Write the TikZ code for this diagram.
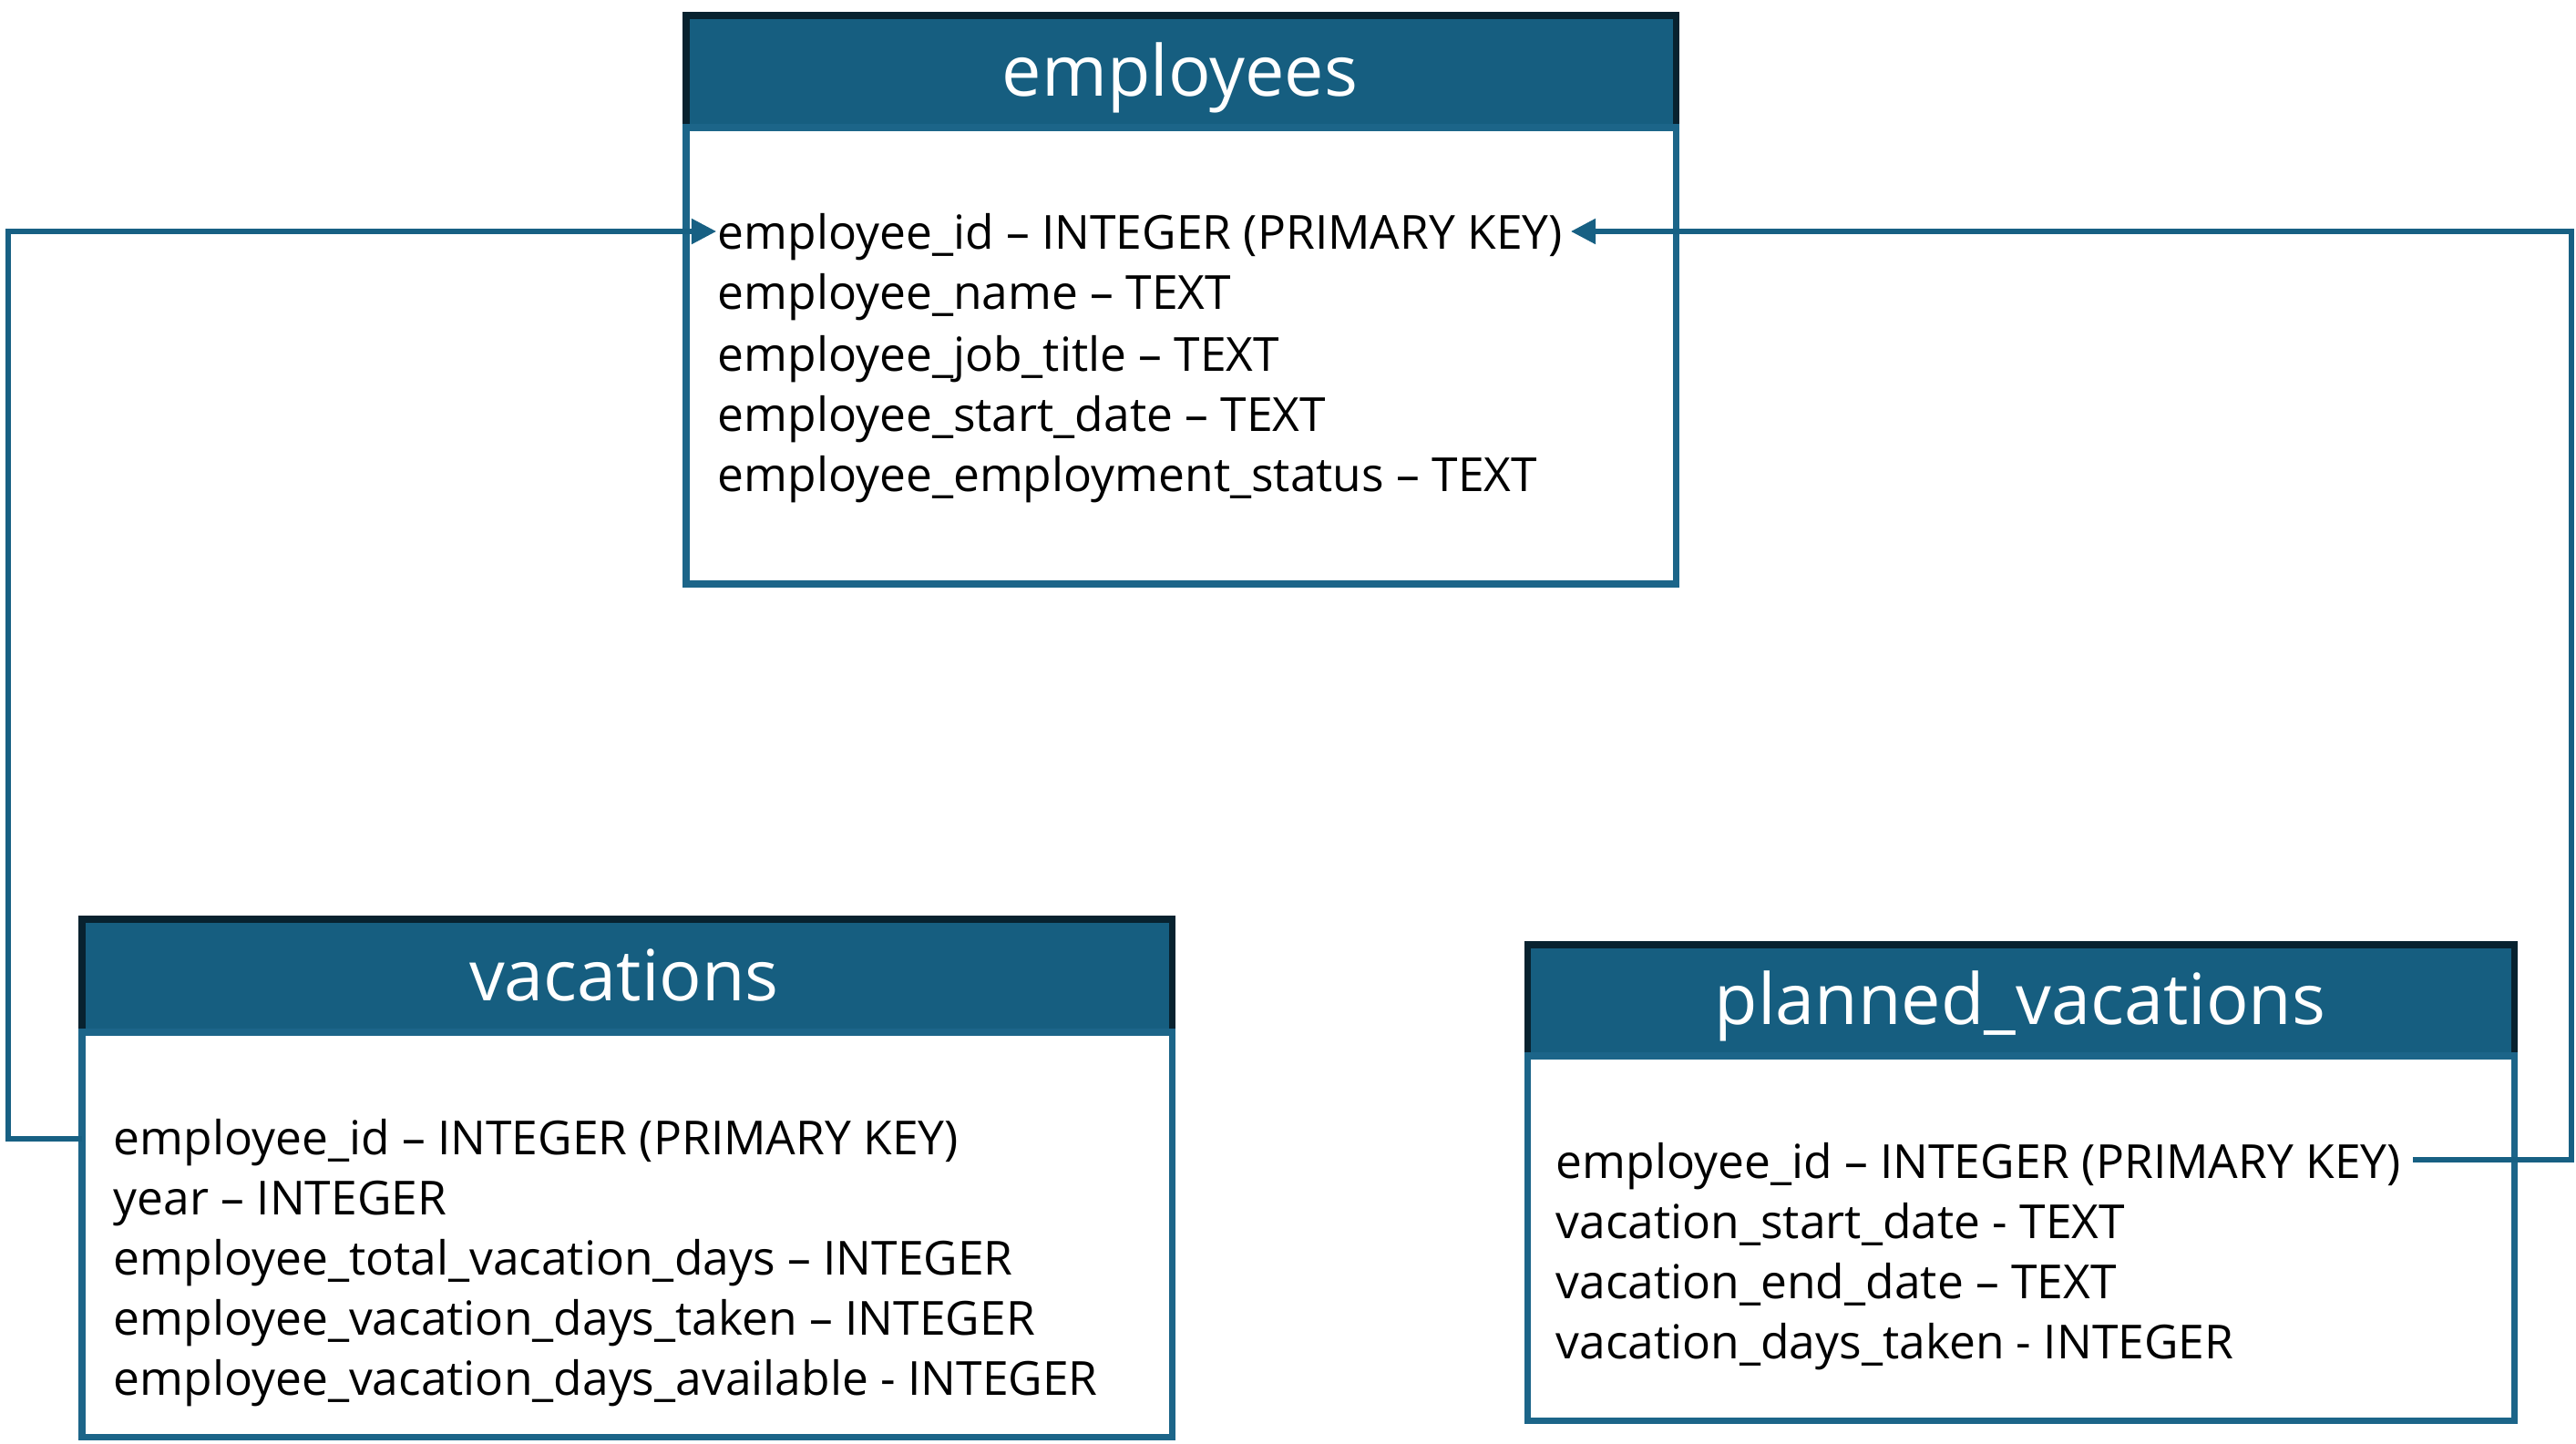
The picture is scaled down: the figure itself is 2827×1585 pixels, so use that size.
\documentclass[tikz,border=0pt]{standalone}
\usepackage{fontspec}
\setmainfont{Open Sans}
\usetikzlibrary{arrows.meta}
\definecolor{hdrfill}{HTML}{165E80}
\definecolor{hdrdark}{HTML}{08222F}
\definecolor{boxblue}{HTML}{1C6589}
\definecolor{linkblue}{HTML}{176083}
\newlength\rowrefw
\newlength\titrefw
\settowidth{\rowrefw}{\fontsize{10pt}{12pt}\selectfont employee\_id – INTEGER (PRIMARY KEY)}
\settowidth{\titrefw}{\fontsize{10pt}{12pt}\selectfont planned\_vacations}
\pgfmathsetmacro\rowfs{10*263.7/\rowrefw}
\pgfmathsetmacro\titfs{10*190.6/\titrefw}
\tikzset{
  hdrbox/.style={fill=hdrfill, draw=hdrdark, line width=2pt},
  bodybox/.style={fill=white, draw=boxblue, line width=2pt},
  rowtext/.style={anchor=base west, inner sep=0pt, font=\fontsize{\rowfs pt}{\rowfs pt}\selectfont, text=black},
  titletext/.style={anchor=base, inner sep=0pt, font=\fontsize{\titfs pt}{\titfs pt}\selectfont, text=white},
  link/.style={draw=linkblue, line width=1.45pt},
  linkarrow/.style={-{Triangle[length=7.7pt,width=7.7pt]}}
}
\begin{document}
\begin{tikzpicture}[x=0.01cm,y=-0.01cm]
\useasboundingbox (0,0) rectangle (2827,1585);
% employees
\draw[hdrbox] (753,17) rectangle (1839,140);
\draw[bodybox] (753,140) rectangle (1839,641);
\node[titletext] (empT) at (1295,106) {employees};
\node[rowtext] (e1) at (787,274) {employee\_id – INTEGER (PRIMARY KEY)};
\node[rowtext] (e2) at (787,340) {employee\_name – TEXT};
\node[rowtext] (e3) at (787,407) {employee\_job\_title – TEXT};
\node[rowtext] (e4) at (787,473) {employee\_start\_date – TEXT};
\node[rowtext] (e5) at (787,539) {employee\_employment\_status – TEXT};
% vacations
\draw[hdrbox] (90,1009) rectangle (1286,1133);
\draw[bodybox] (90,1133) rectangle (1286,1577);
\node[titletext] (vacT) at (685,1098) {vacations};
\node[rowtext] (v1) at (124,1267) {employee\_id – INTEGER (PRIMARY KEY)};
\node[rowtext] (v2) at (124,1333) {year – INTEGER};
\node[rowtext] (v3) at (124,1399) {employee\_total\_vacation\_days – INTEGER};
\node[rowtext] (v4) at (124,1465) {employee\_vacation\_days\_taken – INTEGER};
\node[rowtext] (v5) at (124,1531) {employee\_vacation\_days\_available - INTEGER};
% planned_vacations
\draw[hdrbox] (1676,1037) rectangle (2759,1159);
\draw[bodybox] (1676,1159) rectangle (2759,1559);
\node[titletext] (plT) at (2217,1124) {planned\_vacations};
\node[rowtext] (p1) at (1707,1293) {employee\_id – INTEGER (PRIMARY KEY)};
\node[rowtext] (p2) at (1707,1359) {vacation\_start\_date - TEXT};
\node[rowtext] (p3) at (1707,1425) {vacation\_end\_date – TEXT};
\node[rowtext] (p4) at (1707,1491) {vacation\_days\_taken - INTEGER};
% connectors
\coordinate (vacL) at (90,1250);
\coordinate (leftX) at (9,254);
\coordinate (empTipL) at (786,254);
\coordinate (plR) at (2648,1273);
\coordinate (rightX) at (2822,254);
\coordinate (empTipR) at (1724,254);
\draw[link,linkarrow] (vacL) -| (leftX) -- (empTipL);
\draw[link,linkarrow] (plR) -| (rightX) -- (empTipR);
\end{tikzpicture}
\end{document}
